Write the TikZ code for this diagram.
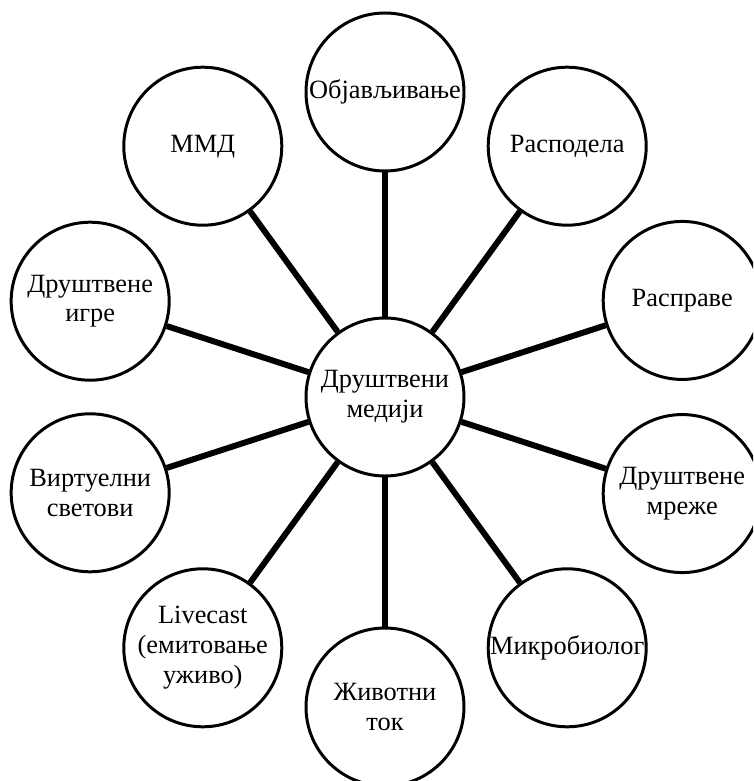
\documentclass[tikz,border=0pt]{standalone}
\usepackage{fontspec}
\setmainfont{Liberation Serif}
\usepackage{tikz}

\tikzset{
  bubble/.style={circle, draw, line width=1.7pt, fill=white, minimum size=3.16cm,
    inner sep=0pt, align=center, font=\fontsize{15}{17}\selectfont},
  spoke/.style={line width=3.4pt}
}

\begin{document}
\begin{tikzpicture}
                % Keep the page to the size of the picture
                \clip (-7.70,-7.68) rectangle (7.36,7.94);

                % The hub
                \node[bubble] (hub) at (0,0) {Друштвени\\медији};

                % The ring of topics around the hub
                \node[bubble] (pub) at (90:6.1) {Објављивање};
                \node[bubble] (share) at (54:6.2) {Расподела};
                \node[bubble] (talk) at (18:6.25) {Расправе};
                \node[bubble] (net) at (-18:6.25) {Друштвене\\мреже};
                \node[bubble] (micro) at (-54:6.2) {Микробиолог};
                \node[bubble] (life) at (-90:6.2) {Животни\\ток};
                \node[bubble] (live) at (-126:6.2) {Livecast\\(емитовање\\уживо)};
                \node[bubble] (virt) at (-162:6.2) {Виртуелни\\светови};
                \node[bubble] (games) at (162:6.2) {Друштвене\\игре};
                \node[bubble] (mmd) at (126:6.2) {ММД};

                % Spokes from the hub
                \draw[spoke] (hub) -- (pub);
                \draw[spoke] (hub) -- (share);
                \draw[spoke] (hub) -- (talk);
                \draw[spoke] (hub) -- (net);
                \draw[spoke] (hub) -- (micro);
                \draw[spoke] (hub) -- (life);
                \draw[spoke] (hub) -- (live);
                \draw[spoke] (hub) -- (virt);
                \draw[spoke] (hub) -- (games);
                \draw[spoke] (hub) -- (mmd);
\end{tikzpicture}
\end{document}
